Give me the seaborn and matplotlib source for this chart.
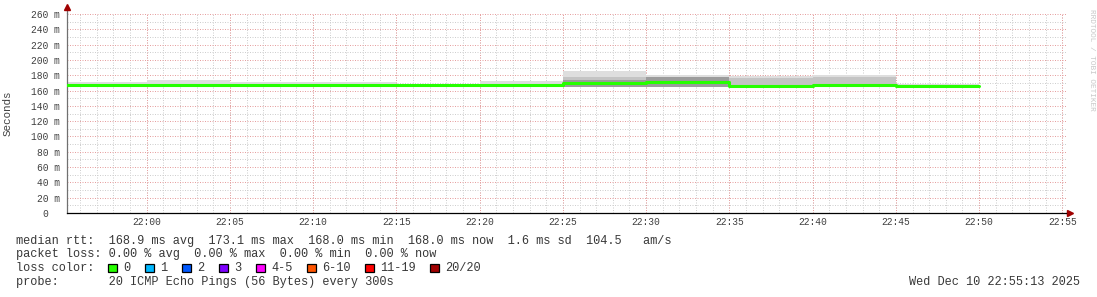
import numpy as np
import pandas as pd
import matplotlib
matplotlib.use("Agg")
import matplotlib.pyplot as plt
from matplotlib.patches import Rectangle
import seaborn as sns

# ---------------- data ----------------
step_starts = ["21:55", "22:00", "22:05", "22:10", "22:15", "22:20",
               "22:25", "22:30", "22:35", "22:40", "22:45"]
median_ms = [166.8, 167.0, 166.8, 166.8, 166.8, 166.8, 169.4, 171.5, 166.6, 167.4, 166.3]
smoke_min = [165.6, 165.6, 165.6, 165.6, 165.6, 165.6, 165.0, 164.6, 165.4, 165.4, 165.4]
smoke_mid = [166.8, 169.0, 166.8, 166.8, 166.8, 166.8, 177.7, 177.7, 176.4, 177.7, 166.3]
smoke_dark = [166.0, 166.0, 166.0, 166.0, 166.0, 166.0, 173.8, 177.7, 166.0, 166.0, 166.0]
smoke_max = [171.2, 173.8, 171.2, 171.8, 168.6, 172.5, 185.1, 180.7, 179.0, 180.3, 168.6]

y_ticks = [0, 20, 40, 60, 80, 100, 120, 140, 160, 180, 200, 220, 240, 260]
y_tick_labels = ["0  ", "20 m", "40 m", "60 m", "80 m", "100 m", "120 m", "140 m",
                 "160 m", "180 m", "200 m", "220 m", "240 m", "260 m"]
x_tick_labels = ["22:00", "22:05", "22:10", "22:15", "22:20", "22:25",
                 "22:30", "22:35", "22:40", "22:45", "22:50", "22:55"]
t_start = "2025-12-10 21:55:13"
t_end = "2025-12-10 22:55:13"

legend_lines = [
    "median rtt:  168.9 ms avg  173.1 ms max  168.0 ms min  168.0 ms now  1.6 ms sd  104.5   am/s",
    "packet loss: 0.00 % avg  0.00 % max  0.00 % min  0.00 % now",
    "loss color:",
    "probe:       20 ICMP Echo Pings (56 Bytes) every 300s",
]
loss_labels = ["0", "1", "2", "3", "4-5", "6-10", "11-19", "20/20"]
loss_colors = ["#26ff00", "#00b8ff", "#0059ff", "#7e00ff", "#ff00ff", "#ff5500", "#ff0000", "#a10000"]
date_text = "Wed Dec 10 22:55:13 2025"
watermark = "RRDTOOL / TOBI OETIKER"

# ---------------- build ----------------
sns.set_theme(style="white")
plt.rcParams["font.family"] = ["Liberation Mono", "DejaVu Sans Mono"]

W, H = 1097, 297
fig = plt.figure(figsize=(W / 100, H / 100), dpi=100)
ax = fig.add_axes([67 / W, (H - 213) / H, 999 / W, (213 - 12.5) / H])

day = "2025-12-10 "
times = pd.to_datetime([day + s for s in step_starts])
edges = list(times) + [times[-1] + pd.Timedelta(minutes=5)]
ext = lambda a: list(a) + [a[-1]]

ax.fill_between(edges, ext(smoke_min), ext(smoke_max), step="post", color="#dedede", lw=0, zorder=2)
ax.fill_between(edges, ext(smoke_min), ext(smoke_mid), step="post", color="#c4c4c4", lw=0, zorder=2)
ax.fill_between(edges, ext(smoke_min), ext(smoke_dark), step="post", color="#9c9c9c", lw=0, zorder=2)

df = pd.DataFrame({"t": edges, "rtt": ext(median_ms)})
sns.lineplot(data=df, x="t", y="rtt", ax=ax, color="#26ff00", lw=2.2,
             drawstyle="steps-post", zorder=4)

ax.set_xlim(pd.Timestamp(t_start), pd.Timestamp(t_end))
ax.set_ylim(0, 262)

# grid (dotted)
tick_times = pd.to_datetime([day + s for s in x_tick_labels])
minor_times = pd.date_range(day + "21:56", day + "22:55", freq="1min")
dot = (0, (1, 1.5))
gkw = dict(lw=0.72, ls=dot, zorder=1)
for t in minor_times:
    ax.axvline(t, color="#cfcfcf", **gkw)
for t in tick_times:
    ax.axvline(t, color="#e6a0a0", **gkw)
for v in range(10, 262, 20):
    ax.axhline(v, color="#cfcfcf", **gkw)
for v in y_ticks[1:]:
    ax.axhline(v, color="#e6a0a0", **gkw)

ax.set_xticks(tick_times)
ax.set_xticklabels(x_tick_labels)
ax.set_yticks(y_ticks)
ax.set_yticklabels(y_tick_labels)
ax.tick_params(axis="x", length=0, pad=3, labelsize=6.9, colors="#404040")
ax.tick_params(axis="y", length=3.6, width=0.7, pad=1.5, labelsize=6.9,
               colors="#404040", direction="out")
ax.grid(False)
ax.set_xlabel("")
ax.set_ylabel("")

for s in ["top", "right"]:
    ax.spines[s].set_visible(False)
ax.spines["left"].set_color("#707070")
ax.spines["left"].set_linewidth(0.9)
ax.spines["bottom"].set_color("#000000")
ax.spines["bottom"].set_linewidth(0.9)
# axis extensions and arrows
ax.plot([0, 0], [1, 1.02], transform=ax.transAxes, color="#707070", lw=0.9, clip_on=False)
ax.plot([1, 1.004], [0, 0], transform=ax.transAxes, color="#000000", lw=0.9, clip_on=False)
ax.plot([0], [1.025], marker="^", ms=4, color="#a00000", transform=ax.transAxes, clip_on=False)
ax.plot([1.0045], [0], marker=">", ms=4, color="#a00000", transform=ax.transAxes, clip_on=False)

# y label
fig.text(8 / W, 1 - 113 / H, "Seconds", rotation=90, ha="center", va="center",
         fontsize=7.8, color="#404040")
# watermark
fig.text(1091 / W, 1 - 60 / H, watermark, rotation=270, ha="center", va="center",
         fontsize=5.6, color="#c8c8c8")

# legend text
fs = 8.55
baselines = [243.7, 257.5, 271.3, 285.0]
for line, yb in zip(legend_lines, baselines):
    fig.text(16 / W, 1 - yb / H, line, ha="left", va="baseline", fontsize=fs, color="#383838")

bx = 108.3
for lab, col in zip(loss_labels, loss_colors):
    fig.add_artist(Rectangle((bx / W, 1 - 272.3 / H), 8.4 / W, 8.4 / H,
                             transform=fig.transFigure, facecolor=col,
                             edgecolor="black", lw=0.9))
    fig.text((bx + 15) / W, 1 - 271.3 / H, lab, ha="left", va="baseline",
             fontsize=fs, color="#383838")
    bx += 30 + 7.0 * len(lab)

fig.text(1080 / W, 1 - 285.0 / H, date_text, ha="right", va="baseline",
         fontsize=fs, color="#383838")

fig.savefig("out.png", dpi=100, facecolor="white")
